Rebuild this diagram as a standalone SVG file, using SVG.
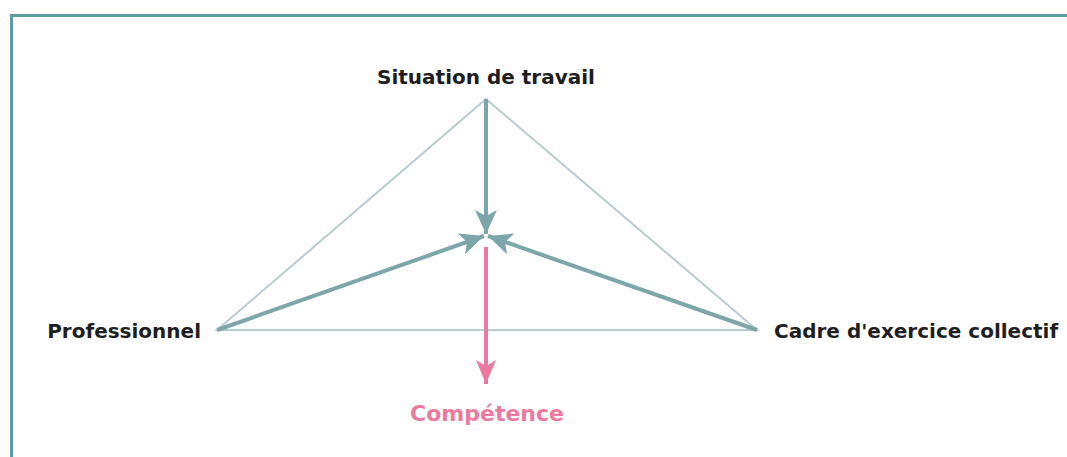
<svg xmlns="http://www.w3.org/2000/svg" width="1067" height="457" viewBox="0 0 1067 457">
<defs>
<style>
.lbl{font-family:"DejaVu Sans","Liberation Sans",sans-serif;font-weight:bold;font-size:20px;fill:#1e1e22}
.pink{fill:#ec7a9f;font-size:22px}
.tri{fill:none;stroke:#b6cdcf;stroke-width:2}
.arr{stroke:#7da6ab;stroke-width:4;fill:none}
.parr{stroke:#ec7a9f;stroke-width:4;fill:none}
</style>
<marker id="ah" markerUnits="userSpaceOnUse" markerWidth="26" markerHeight="26" viewBox="0 0 26 26" refX="24" refY="13" orient="auto">
<path d="M0,2 L24,13 L0,24 L6,13 Z" fill="#7da6ab"/>
</marker>
<marker id="ahp" markerUnits="userSpaceOnUse" markerWidth="26" markerHeight="26" viewBox="0 0 26 26" refX="24" refY="13" orient="auto">
<path d="M0,3 L24,13 L0,23 L6,13 Z" fill="#ec7a9f"/>
</marker>
</defs>
<rect width="1067" height="457" fill="#fff"/>
<path d="M11.5,460 L11.5,15.5 L1070,15.5" fill="none" stroke="#5e9ca1" stroke-width="3"/>
<g id="connectors">
<polygon class="tri" points="486,99 217,330 757,330"/>
<line class="arr" x1="486" y1="99" x2="486" y2="234" marker-end="url(#ah)"/>
<line class="arr" x1="217" y1="330" x2="484" y2="236" marker-end="url(#ah)"/>
<line class="arr" x1="757" y1="330" x2="488" y2="236" marker-end="url(#ah)"/>
<line class="parr" x1="486" y1="247" x2="486" y2="384" marker-end="url(#ahp)"/>
</g>
<g id="situation"><text class="lbl" x="486" y="84" text-anchor="middle">Situation de travail</text></g>
<g id="professionnel"><text class="lbl" x="201" y="338" text-anchor="end">Professionnel</text></g>
<g id="cadre"><text class="lbl" x="774" y="338">Cadre d'exercice collectif</text></g>
<g id="competence"><text class="lbl pink" x="487" y="421" text-anchor="middle">Compétence</text></g>
</svg>
